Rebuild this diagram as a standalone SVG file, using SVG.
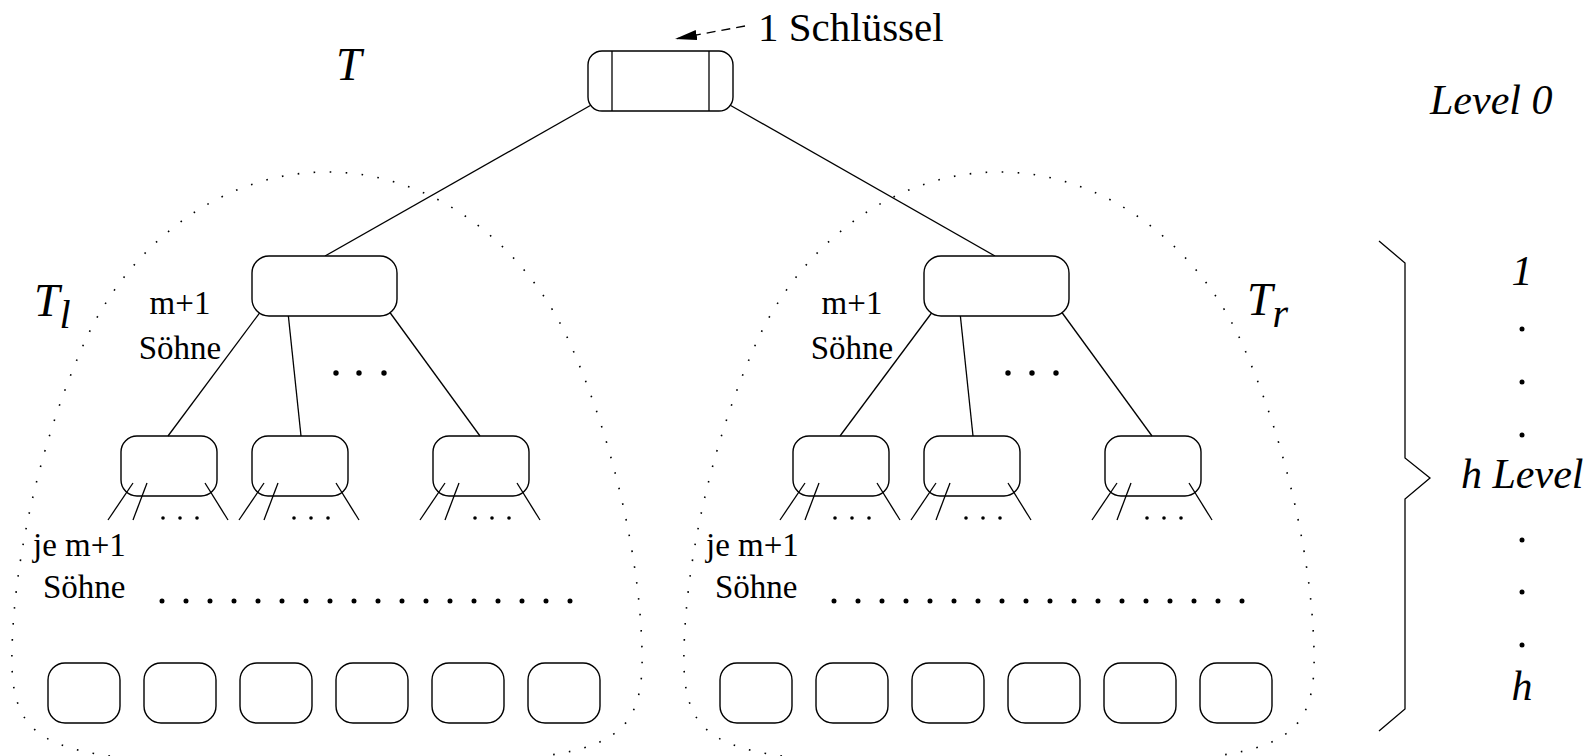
<svg xmlns="http://www.w3.org/2000/svg" width="1596" height="756" viewBox="0 0 1596 756">
<defs>
<style>
.nd{fill:#fff;stroke:#000;stroke-width:1.4}
.ed{stroke:#000;stroke-width:1.3;fill:none}
.dot{fill:#000}
.bound{fill:none;stroke:#000;stroke-width:1.6;stroke-dasharray:1.6 14.4}
.lbl{font-family:"Liberation Serif","Times New Roman",serif;font-size:33px;fill:#000}
.big{font-family:"Liberation Serif","Times New Roman",serif;font-size:41px;fill:#000}
.it{font-family:"Liberation Serif","Times New Roman",serif;font-style:italic;font-size:42px;fill:#000}
.row{stroke:#000;stroke-width:5;stroke-linecap:round;stroke-dasharray:0 24;fill:none}
</style>
<marker id="ah" markerWidth="24" markerHeight="10" refX="22" refY="5" orient="auto" markerUnits="userSpaceOnUse">
<path d="M0,0 L22,5 L0,10 Z" fill="#000"/>
</marker>
</defs>
<rect width="1596" height="756" fill="#fff"/>

<g id="bounds">
<path id="bound-left" class="bound" d="M110,756 C30,745 10,720 12,650 C14,560 40,440 86,339 C130,245 220,172 327,172 C434,172 524,245 568,339 C614,440 640,560 642,650 C644,720 624,745 544,756 C460,770 194,770 110,756 Z"/>
<path id="bound-right" class="bound" transform="translate(672,0)" d="M110,756 C30,745 10,720 12,650 C14,560 40,440 86,339 C130,245 220,172 327,172 C434,172 524,245 568,339 C614,440 640,560 642,650 C644,720 624,745 544,756 C460,770 194,770 110,756 Z"/>
</g>

<g id="connectors">
<line class="ed" x1="600" y1="100" x2="325" y2="256"/>
<line class="ed" x1="721" y1="100" x2="995" y2="256"/>
<line class="ed" x1="267" y1="303" x2="168" y2="436"/>
<line class="ed" x1="287" y1="303" x2="301" y2="436"/>
<line class="ed" x1="383" y1="303" x2="480" y2="436"/>
<line class="ed" x1="939" y1="303" x2="840" y2="436"/>
<line class="ed" x1="959" y1="303" x2="973" y2="436"/>
<line class="ed" x1="1055" y1="303" x2="1152" y2="436"/>
<line class="ed" x1="745" y1="26" x2="675" y2="39" stroke-dasharray="9 6" marker-end="url(#ah)"/>
</g>

<g id="root">
<rect class="nd" x="588" y="51" width="145" height="60" rx="14"/>
<line class="ed" x1="612" y1="51" x2="612" y2="111"/>
<line class="ed" x1="709" y1="51" x2="709" y2="111"/>
</g>

<g id="l1-left"><rect class="nd" x="252" y="256" width="145" height="60" rx="17"/></g>
<g id="l1-right"><rect class="nd" x="924" y="256" width="145" height="60" rx="17"/></g>

<g id="l2-left-a">
<line class="ed" x1="133" y1="483" x2="108" y2="520"/><line class="ed" x1="147" y1="483" x2="133" y2="520"/><line class="ed" x1="205" y1="483" x2="228" y2="520"/>
<rect class="nd" x="121" y="436" width="96" height="60" rx="16" fill="none" style="fill:none"/>
<circle class="dot" cx="163" cy="518" r="1.8"/><circle class="dot" cx="180" cy="518" r="1.8"/><circle class="dot" cx="197" cy="518" r="1.8"/>
</g>
<g id="l2-left-b">
<line class="ed" x1="264" y1="483" x2="239" y2="520"/><line class="ed" x1="278" y1="483" x2="264" y2="520"/><line class="ed" x1="336" y1="483" x2="359" y2="520"/>
<rect class="nd" x="252" y="436" width="96" height="60" rx="16" style="fill:none"/>
<circle class="dot" cx="294" cy="518" r="1.8"/><circle class="dot" cx="311" cy="518" r="1.8"/><circle class="dot" cx="328" cy="518" r="1.8"/>
</g>
<g id="l2-left-c">
<line class="ed" x1="445" y1="483" x2="420" y2="520"/><line class="ed" x1="459" y1="483" x2="445" y2="520"/><line class="ed" x1="517" y1="483" x2="540" y2="520"/>
<rect class="nd" x="433" y="436" width="96" height="60" rx="16" style="fill:none"/>
<circle class="dot" cx="475" cy="518" r="1.8"/><circle class="dot" cx="492" cy="518" r="1.8"/><circle class="dot" cx="509" cy="518" r="1.8"/>
</g>
<g id="l2-right-a">
<line class="ed" x1="805" y1="483" x2="780" y2="520"/><line class="ed" x1="819" y1="483" x2="805" y2="520"/><line class="ed" x1="877" y1="483" x2="900" y2="520"/>
<rect class="nd" x="793" y="436" width="96" height="60" rx="16" style="fill:none"/>
<circle class="dot" cx="835" cy="518" r="1.8"/><circle class="dot" cx="852" cy="518" r="1.8"/><circle class="dot" cx="869" cy="518" r="1.8"/>
</g>
<g id="l2-right-b">
<line class="ed" x1="936" y1="483" x2="911" y2="520"/><line class="ed" x1="950" y1="483" x2="936" y2="520"/><line class="ed" x1="1008" y1="483" x2="1031" y2="520"/>
<rect class="nd" x="924" y="436" width="96" height="60" rx="16" style="fill:none"/>
<circle class="dot" cx="966" cy="518" r="1.8"/><circle class="dot" cx="983" cy="518" r="1.8"/><circle class="dot" cx="1000" cy="518" r="1.8"/>
</g>
<g id="l2-right-c">
<line class="ed" x1="1117" y1="483" x2="1092" y2="520"/><line class="ed" x1="1131" y1="483" x2="1117" y2="520"/><line class="ed" x1="1189" y1="483" x2="1212" y2="520"/>
<rect class="nd" x="1105" y="436" width="96" height="60" rx="16" style="fill:none"/>
<circle class="dot" cx="1147" cy="518" r="1.8"/><circle class="dot" cx="1164" cy="518" r="1.8"/><circle class="dot" cx="1181" cy="518" r="1.8"/>
</g>

<g id="leaves-left">
<rect class="nd" x="48" y="663" width="72" height="60" rx="17"/>
<rect class="nd" x="144" y="663" width="72" height="60" rx="17"/>
<rect class="nd" x="240" y="663" width="72" height="60" rx="17"/>
<rect class="nd" x="336" y="663" width="72" height="60" rx="17"/>
<rect class="nd" x="432" y="663" width="72" height="60" rx="17"/>
<rect class="nd" x="528" y="663" width="72" height="60" rx="17"/>
</g>
<g id="leaves-right">
<rect class="nd" x="720" y="663" width="72" height="60" rx="17"/>
<rect class="nd" x="816" y="663" width="72" height="60" rx="17"/>
<rect class="nd" x="912" y="663" width="72" height="60" rx="17"/>
<rect class="nd" x="1008" y="663" width="72" height="60" rx="17"/>
<rect class="nd" x="1104" y="663" width="72" height="60" rx="17"/>
<rect class="nd" x="1200" y="663" width="72" height="60" rx="17"/>
</g>

<g id="ellipses">
<circle class="dot" cx="336" cy="373" r="2.7"/><circle class="dot" cx="359" cy="373" r="2.7"/><circle class="dot" cx="384" cy="373" r="2.7"/>
<circle class="dot" cx="1008" cy="373" r="2.7"/><circle class="dot" cx="1032" cy="373" r="2.7"/><circle class="dot" cx="1056" cy="373" r="2.7"/>
<line class="row" x1="162" y1="601" x2="571" y2="601"/>
<line class="row" x1="834" y1="601" x2="1243" y2="601"/>
</g>

<g id="labels">
<text class="big" x="758" y="41">1 Schlüssel</text>
<text class="it" x="336" y="80" font-size="46" style="font-size:46px">T</text>
<text class="it" x="34" y="316" style="font-size:46px">T<tspan dy="12" style="font-size:40px">l</tspan></text>
<text class="it" x="1247" y="315" style="font-size:46px">T<tspan dy="12" style="font-size:40px">r</tspan></text>
<text class="lbl" x="180" y="314" text-anchor="middle">m+1</text>
<text class="lbl" x="180" y="359" text-anchor="middle">Söhne</text>
<text class="lbl" x="852" y="314" text-anchor="middle">m+1</text>
<text class="lbl" x="852" y="359" text-anchor="middle">Söhne</text>
<text class="lbl" x="33" y="556">je m+1</text>
<text class="lbl" x="43" y="598">Söhne</text>
<text class="lbl" x="706" y="556">je m+1</text>
<text class="lbl" x="715" y="598">Söhne</text>
</g>

<g id="levels">
<polyline class="ed" points="1379,241 1405,263 1405,458 1430,478 1405,499 1405,709 1379,731"/>
<text class="it" x="1430" y="114">Level 0</text>
<text class="it" x="1522" y="285" text-anchor="middle">1</text>
<circle class="dot" cx="1522" cy="329" r="2.5"/><circle class="dot" cx="1522" cy="382" r="2.5"/><circle class="dot" cx="1522" cy="435" r="2.5"/>
<text class="it" x="1461" y="488">h Level</text>
<circle class="dot" cx="1522" cy="540" r="2.5"/><circle class="dot" cx="1522" cy="592" r="2.5"/><circle class="dot" cx="1522" cy="645" r="2.5"/>
<text class="it" x="1522" y="700" text-anchor="middle">h</text>
</g>
</svg>
